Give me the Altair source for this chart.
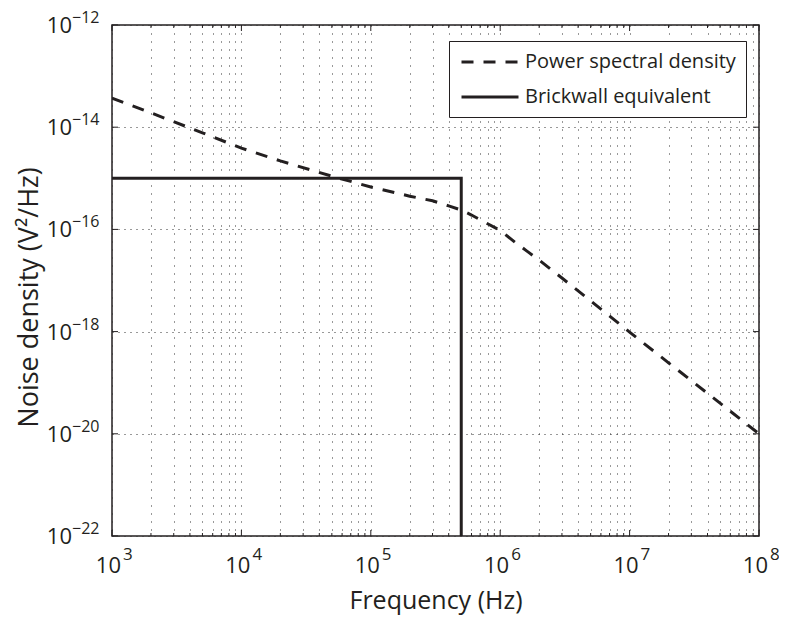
import altair as alt
import pandas as pd

# ---------------- data ----------------
freq_psd = [1e3, 2e3, 5e3, 1e4, 2e4, 5e4, 1e5, 2e5, 3e5, 4e5, 5e5, 6e5, 8e5,
            1e6, 1.3e6, 1.6e6, 2e6, 3e6, 5e6, 1e7, 2e7, 5e7, 1e8]
psd = [3.72e-14, 1.91e-14, 7.76e-15, 3.89e-15, 2.19e-15, 1.10e-15, 6.76e-16,
       4.47e-16, 3.63e-16, 2.88e-16, 2.40e-16, 1.91e-16, 1.29e-16, 9.55e-17,
       5.62e-17, 3.80e-17, 2.51e-17, 1.12e-17, 3.98e-18, 9.77e-19, 2.45e-19,
       3.98e-20, 1.00e-20]
freq_brick = [1e3, 5e5, 5e5]
brick = [1e-15, 1e-15, 1e-22]
series_names = ["Power spectral density", "Brickwall equivalent"]

x_decades = [1e3, 1e4, 1e5, 1e6, 1e7, 1e8]
x_exponents = ["3", "4", "5", "6", "7", "8"]
y_decades = [1e-22, 1e-20, 1e-18, 1e-16, 1e-14, 1e-12]
y_exponents = ["\u221222", "\u221220", "\u221218", "\u221216", "\u221214", "\u221212"]
x_minor = [k * 10 ** n for n in range(3, 8) for k in range(2, 10)]

# ---------------- styles ----------------
INK = "#231f20"
FONT = "Open Sans"
W, H = 647, 511

rows = []
for i, (f, v) in enumerate(zip(freq_psd, psd)):
    rows.append({"f": f, "v": v, "series": series_names[0], "idx": i})
for i, (f, v) in enumerate(zip(freq_brick, brick)):
    rows.append({"f": f, "v": v, "series": series_names[1], "idx": i})
df = pd.DataFrame(rows)

xs = alt.Scale(type="log", domain=[1e3, 1e8], nice=False)
ys = alt.Scale(type="log", domain=[1e-22, 1e-12], nice=False)

x_axis = alt.Axis(values=x_decades + x_minor, grid=True, gridDash=[1, 7],
                  gridColor="#333333", gridWidth=1, labels=False, ticks=False,
                  domain=False, title="Frequency (Hz)", titleFont=FONT,
                  titleFontSize=25, titleFontWeight="normal", titleColor=INK,
                  titleBaseline="alphabetic", titleY=72, titleX=W / 2)
y_axis = alt.Axis(values=y_decades, grid=True, gridDash=[1, 5],
                  gridColor="#333333", gridWidth=1, labels=False, ticks=False,
                  domain=False, title="Noise density (V\u00b2/Hz)", titleFont=FONT,
                  titleFontSize=27, titleFontWeight="normal", titleColor=INK,
                  titleAngle=-90, titleBaseline="alphabetic", titleX=-75, titleY=272)

legend = alt.Legend(orient="none", legendX=337, legendY=16, title=None,
                    fillColor="white", strokeColor=INK, padding=10,
                    symbolType="M-3,0H3", symbolSize=361, symbolStrokeWidth=3,
                    symbolStrokeColor=INK, symbolOffset=20, labelOffset=24,
                    labelFont=FONT, labelFontSize=20, labelColor=INK,
                    rowPadding=14, labelLimit=400, cornerRadius=0)

X = lambda field: alt.X(field, scale=xs, axis=x_axis)
Y = lambda field: alt.Y(field, scale=ys, axis=y_axis)

lines = alt.Chart(df).mark_line(strokeWidth=3, color=INK, clip=True).encode(
    x=X("f:Q"),
    y=Y("v:Q"),
    strokeDash=alt.StrokeDash("series:N",
                              scale=alt.Scale(domain=series_names, range=[[12, 10], [1, 0]]),
                              legend=legend),
    order=alt.Order("idx:Q"),
)

xmaj = pd.DataFrame({"t": x_decades, "e": x_exponents, "b": ["10"] * len(x_decades)})
xmin = pd.DataFrame({"t": x_minor})
ymaj = pd.DataFrame({"t": y_decades, "e": y_exponents, "b": ["10"] * len(y_decades)})

def xtick(data, y0, y1):
    return alt.Chart(data).mark_rule(color=INK, strokeWidth=1).encode(
        x=X("t:Q"), y=alt.value(y0), y2=alt.value(y1))

def ytick(data, x0, x1):
    return alt.Chart(data).mark_rule(color=INK, strokeWidth=1).encode(
        y=Y("t:Q"), x=alt.value(x0), x2=alt.value(x1))

ticks = [xtick(xmaj, H, H - 6), xtick(xmaj, 0, 6), xtick(xmin, H, H - 3), xtick(xmin, 0, 3),
         ytick(ymaj, 0, 6), ytick(ymaj, W, W - 6)]

x_ten = alt.Chart(xmaj).mark_text(align="right", baseline="alphabetic", dx=9,
                                  font=FONT, fontSize=22, color=INK).encode(
    x=X("t:Q"), y=alt.value(H + 37), text="b:N")
x_exp = alt.Chart(xmaj).mark_text(align="left", baseline="alphabetic", dx=11,
                                  font=FONT, fontSize=17, color=INK).encode(
    x=X("t:Q"), y=alt.value(H + 24), text="e:N")
y_ten = alt.Chart(ymaj).mark_text(align="right", baseline="alphabetic", dy=8,
                                  font=FONT, fontSize=22, color=INK).encode(
    y=Y("t:Q"), x=alt.value(-40), text="b:N")
y_exp = alt.Chart(ymaj).mark_text(align="left", baseline="alphabetic", dy=-2,
                                  font=FONT, fontSize=16, color=INK).encode(
    y=Y("t:Q"), x=alt.value(-40), text="e:N")

chart = alt.layer(lines, *ticks, x_ten, x_exp, y_ten, y_exp).properties(
    width=W, height=H,
    autosize=alt.AutoSizeParams(type="none"),
    padding={"left": 104, "top": 17, "right": 20, "bottom": 80},
    background="white",
).configure_view(stroke=INK, strokeWidth=1.5)

chart.save("out.html", embed_options={"renderer": "svg", "actions": False})
